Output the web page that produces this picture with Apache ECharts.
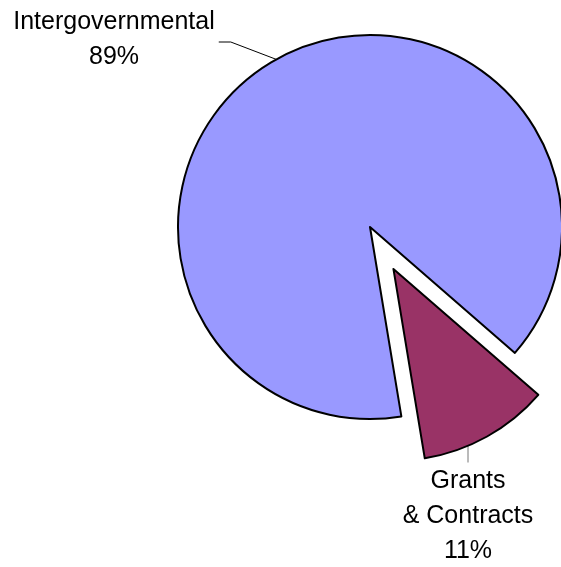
<!DOCTYPE html>
<html>
<head>
<meta charset="utf-8">
<script src="https://cdn.jsdelivr.net/npm/echarts@6/dist/echarts.min.js"></script>
<style>
  html, body { margin: 0; padding: 0; background: #fff; }
  #chart { width: 561px; height: 567px; }
</style>
</head>
<body>
<div id="chart"></div>
<script>
// Revenue sources, share of total (%)
const categories = ['Intergovernmental', 'Grants & Contracts'];
const shares = [89, 11];
const sliceColors = ['#9999FF', '#993366'];
const explodedSlices = [false, true];

// Pie geometry and label placement
const pieCenter = [370, 227];
const pieRadius = 192;
const startAngle = 279.4;
const explodeDistance = 48;
const labelCenters = [[114, 40], [468, 516]];
const leaderColors = ['#000000', '#777777'];

const chart = echarts.init(document.getElementById('chart'), null, { renderer: 'canvas' });

const total = shares.reduce((a, b) => a + b, 0);

// Centre of a slice pushed outward along its bisector
function explodedCenter(idx) {
  let before = 0;
  for (let i = 0; i < idx; i++) before += shares[i];
  const midDeg = startAngle - (before + shares[idx] / 2) / total * 360;
  const rad = midDeg * Math.PI / 180;
  return [pieCenter[0] + explodeDistance * Math.cos(rad),
          pieCenter[1] - explodeDistance * Math.sin(rad)];
}

const layerCenters = categories.map((_, i) => explodedSlices[i] ? explodedCenter(i) : pieCenter);

function labelStyle(layer) {
  const s = {
    show: true,
    position: 'outside',
    fontFamily: 'Liberation Sans, Arial, sans-serif',
    fontSize: 25,
    lineHeight: 35,
    color: '#000000',
    align: 'center',
    formatter: p => p.name.replace(' & ', '\n& ') + '\n' + p.percent + '%'
  };
  // keep the lower label from being truncated near the canvas edge
  if (layer === 1) { s.width = 240; s.overflow = 'none'; }
  return s;
}

// One pie layer per slice so an exploded slice can sit on its own centre;
// the other slices in each layer are left invisible.
const series = categories.map((_, layer) => ({
  type: 'pie',
  center: layerCenters[layer],
  radius: pieRadius,
  startAngle: startAngle,
  clockwise: true,
  silent: true,
  avoidLabelOverlap: false,
  emphasis: { disabled: true },
  label: labelStyle(layer),
  labelLine: {
    show: true,
    length: 10,
    length2: 12,
    smooth: false,
    lineStyle: { color: leaderColors[layer], width: 1 }
  },
  labelLayout: function (p) {
    if (p.dataIndex !== layer) return {};
    const c = labelCenters[layer];
    const w = p.labelRect.width;
    const h = p.labelRect.height;
    const out = { x: c[0], y: c[1], align: 'center', verticalAlign: 'middle', hideOverlap: false };
    if (layer === 0 && p.labelLinePoints) {
      // short horizontal tick off the label, then straight to the slice edge
      const startX = c[0] + w / 2 + 4;
      const lineY = c[1] + 2;
      out.labelLinePoints = [p.labelLinePoints[0], [startX + 12, lineY], [startX, lineY]];
    } else if (layer === 1) {
      // vertical drop from the arc straight above the label
      const lc = layerCenters[layer];
      const dx = c[0] - lc[0];
      const arcY = lc[1] + Math.sqrt(pieRadius * pieRadius - dx * dx);
      const top = c[1] - h / 2 - 1;
      out.labelLinePoints = [[c[0], arcY], [c[0], top], [c[0], top]];
    }
    return out;
  },
  data: categories.map((name, i) => ({
    name: name,
    value: shares[i],
    itemStyle: i === layer
      ? { color: sliceColors[i], borderColor: '#000000', borderWidth: 2 }
      : { color: 'rgba(0,0,0,0)', borderWidth: 0 },
    label: { show: i === layer },
    labelLine: { show: i === layer }
  }))
}));

chart.setOption({
  animation: false,
  backgroundColor: '#ffffff',
  series: series
});
</script>
</body>
</html>
